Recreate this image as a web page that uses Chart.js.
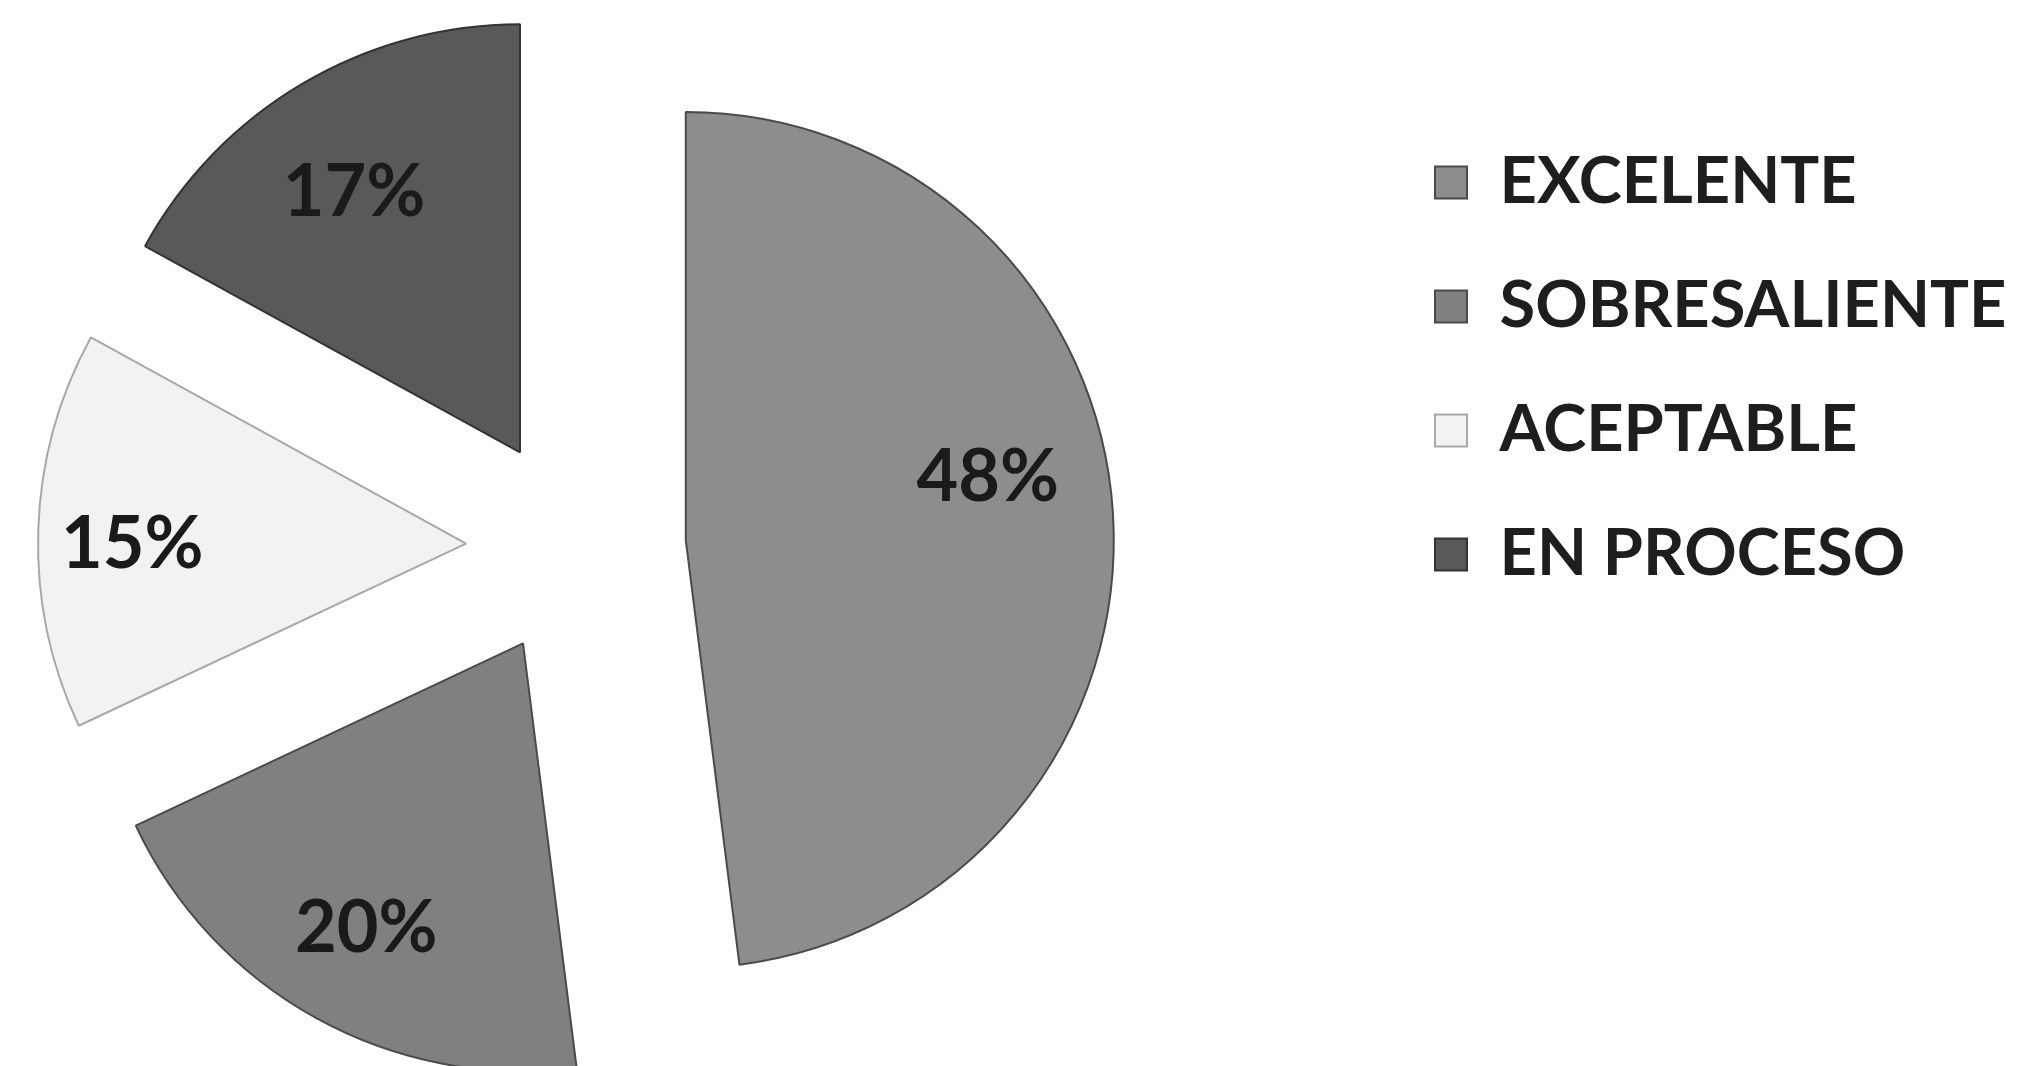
<!DOCTYPE html>
<html>
<head>
<meta charset="utf-8">
<script src="https://cdn.jsdelivr.net/npm/chart.js@4.4.0/dist/chart.umd.min.js"></script>
<style>
  html, body { margin: 0; padding: 0; background: #ffffff; overflow: hidden; }
  #wrap { width: 2023px; height: 1066px; position: relative; overflow: hidden; }
  #c { position: absolute; left: -224px; top: 0; }
</style>
</head>
<body>
<div id="wrap"><canvas id="c" width="2260" height="1066"></canvas></div>
<script>
// ---- data ----
const categories = ['EXCELENTE', 'SOBRESALIENTE', 'ACEPTABLE', 'EN PROCESO'];
const percentages = [48, 20, 15, 17];
const percentLabels = ['48%', '20%', '15%', '17%'];

// ---- styles ----
const fillColors = ['#8d8d8d', '#808080', '#f2f2f2', '#595959'];
const edgeColors = ['#4a4a4a', '#4a4a4a', '#a8a8a8', '#333333'];
const explodeDistance = 110; // px each wedge is pulled out along its bisector
const pieRadius = 428;
const pieCenterX = 800;      // in canvas pixels

// exploded pie: pull every wedge out by the same distance along its mid angle
const explodePlugin = {
  id: 'explode',
  afterDatasetsUpdate(chart) {
    chart.getDatasetMeta(0).data.forEach(arc => {
      const mid = (arc.startAngle + arc.endAngle) / 2;
      arc.x += Math.cos(mid) * explodeDistance;
      arc.y += Math.sin(mid) * explodeDistance;
    });
  }
};

const pctLabelPlugin = {
  id: 'pctLabels',
  afterDatasetsDraw(chart, args, opts) {
    const ctx = chart.ctx;
    const meta = chart.getDatasetMeta(0);
    ctx.save();
    ctx.font = opts.font;
    ctx.fillStyle = opts.color;
    ctx.textAlign = 'center';
    ctx.textBaseline = 'middle';
    meta.data.forEach((arc, i) => {
      const mid = (arc.startAngle + arc.endAngle) / 2;
      const a = mid + (opts.angleShift[i] || 0) * Math.PI / 180;
      const rr = arc.outerRadius * opts.radial[i];
      ctx.fillText(percentLabels[i], arc.x + Math.cos(a) * rr, arc.y + Math.sin(a) * rr);
    });
    ctx.restore();
  }
};

const canvas = document.getElementById('c');
const chart = new Chart(canvas, {
  type: 'pie',
  data: {
    labels: categories,
    datasets: [{
      data: percentages,
      backgroundColor: fillColors,
      borderColor: edgeColors,
      borderWidth: 2
    }]
  },
  options: {
    responsive: false,
    animation: false,
    events: [],
    radius: pieRadius,
    layout: { padding: { left: 0, top: 91, bottom: 63, right: 0 } },
    plugins: {
      tooltip: { enabled: false },
      legend: {
        display: true,
        position: 'right',
        align: 'start',
        labels: {
          boxWidth: 32,
          boxHeight: 32,
          padding: 59,
          color: '#1e1e1e',
          font: { family: 'Lato', size: 65, weight: 'bold' }
        }
      },
      pctLabels: {
        font: 'bold 72px Lato',
        color: '#1a1a1a',
        radial: [0.72, 0.76, 0.78, 0.72],
        angleShift: [-8, 0, -2, -2]
      }
    }
  },
  plugins: [explodePlugin, pctLabelPlugin]
});
// place the legend so the chart area is centred on pieCenterX
const legendW = chart.legend.width;
chart.options.layout.padding.right = Math.max(canvas.width - 2 * pieCenterX - legendW, 0);
chart.update();
</script>
</body>
</html>
